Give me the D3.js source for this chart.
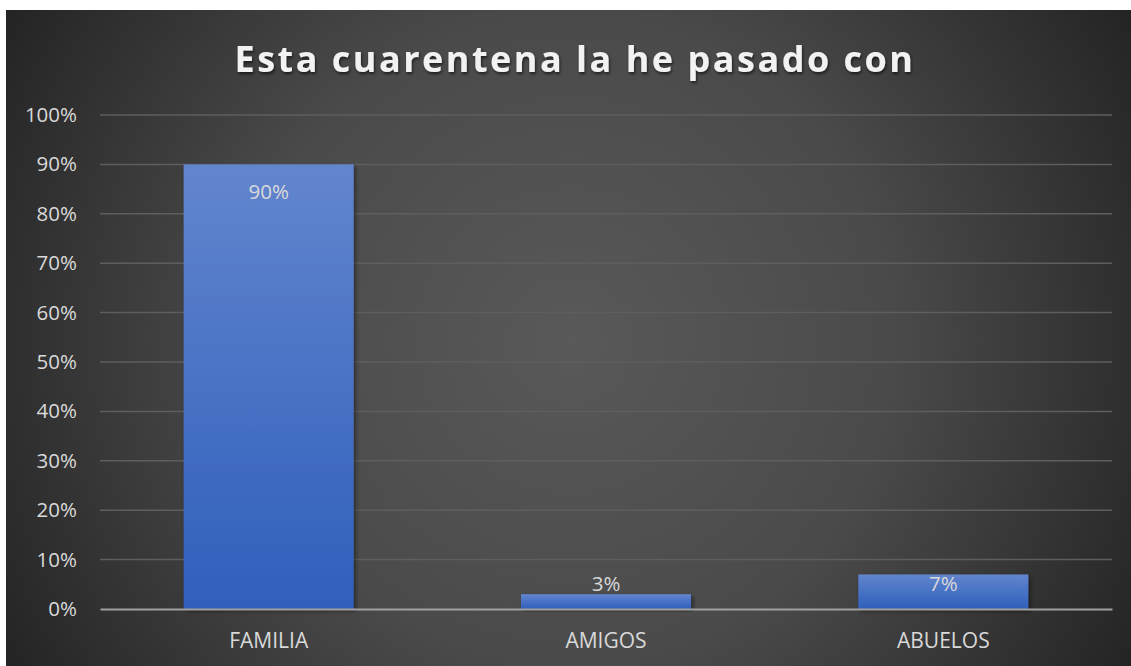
<!DOCTYPE html>
<html>
<head>
<meta charset="utf-8">
<script src="https://cdn.jsdelivr.net/npm/d3@7"></script>
<style>
  body { margin: 0; background: #fff; }
</style>
</head>
<body>
<script>
const canvWidth = 1131, canvHeight = 666;

// data
const categories = ["FAMILIA", "AMIGOS", "ABUELOS"];
const values = [0.90, 0.03, 0.07];
const valueLabels = ["90%", "3%", "7%"];
const yTicks = [0, 0.1, 0.2, 0.3, 0.4, 0.5, 0.6, 0.7, 0.8, 0.9, 1.0];

const plot = {left: 100, right: 1112, top: 115, bottom: 609};

const svg = d3.select("body").append("svg")
    .attr("width", canvWidth)
    .attr("height", canvHeight);

const defs = svg.append("defs");

const bg = defs.append("radialGradient")
    .attr("id", "bg")
    .attr("gradientUnits", "userSpaceOnUse")
    .attr("cx", 570).attr("cy", 340).attr("r", 720);
bg.append("stop").attr("offset", "0%").attr("stop-color", "#595959");
bg.append("stop").attr("offset", "45%").attr("stop-color", "#4a4a4a");
bg.append("stop").attr("offset", "100%").attr("stop-color", "#1c1c1c");

const barGrad = defs.append("linearGradient")
    .attr("id", "barGrad")
    .attr("x1", 0).attr("y1", 0).attr("x2", 0).attr("y2", 1);
barGrad.append("stop").attr("offset", "0%").attr("stop-color", "#6285ce");
barGrad.append("stop").attr("offset", "100%").attr("stop-color", "#2f5fbb");

const shadow = defs.append("filter").attr("id", "shadow")
    .attr("x", "-10%").attr("y", "-10%").attr("width", "130%").attr("height", "130%");
shadow.append("feDropShadow")
    .attr("dx", 2).attr("dy", 2).attr("stdDeviation", 2)
    .attr("flood-color", "#000").attr("flood-opacity", 0.45);

const titleShadow = defs.append("filter").attr("id", "tshadow")
    .attr("x", "-5%").attr("y", "-20%").attr("width", "110%").attr("height", "150%");
titleShadow.append("feDropShadow")
    .attr("dx", 1).attr("dy", 2).attr("stdDeviation", 1.5)
    .attr("flood-color", "#000").attr("flood-opacity", 0.6);

svg.append("rect")
    .attr("x", 6).attr("y", 10)
    .attr("width", canvWidth - 6).attr("height", canvHeight - 10)
    .attr("fill", "url(#bg)");

const xScale = d3.scaleBand()
    .domain(categories)
    .range([plot.left, plot.right])
    .paddingInner(0.496)
    .paddingOuter(0.248);

const yScale = d3.scaleLinear()
    .domain([0, 1])
    .range([plot.bottom, plot.top]);

// gridlines
svg.append("g")
    .selectAll("line")
    .data(yTicks.slice(1))
    .enter().append("line")
    .attr("x1", plot.left).attr("x2", plot.right)
    .attr("y1", d => yScale(d)).attr("y2", d => yScale(d))
    .attr("stroke", "#5e5e5e")
    .attr("stroke-width", 1.5);

// y axis labels
const yAxis = d3.axisLeft(yScale)
    .tickValues(yTicks)
    .tickFormat(d3.format(".0%"))
    .tickSize(0)
    .tickPadding(23);
svg.append("g")
    .attr("transform", `translate(${plot.left},0)`)
    .call(yAxis)
    .call(g => g.select(".domain").remove())
    .selectAll("text")
    .attr("font-family", "Open Sans")
    .attr("font-size", "20.5px")
    .attr("fill", "#d9d9d9");

// bars
svg.append("g")
    .selectAll("rect")
    .data(values)
    .enter().append("rect")
    .attr("x", (d, i) => xScale(categories[i]))
    .attr("y", d => yScale(d))
    .attr("width", xScale.bandwidth())
    .attr("height", d => plot.bottom - yScale(d))
    .attr("fill", "url(#barGrad)")
    .attr("filter", "url(#shadow)");

// x axis
const xAxis = d3.axisBottom(xScale).tickSize(0).tickPadding(24);
svg.append("g")
    .attr("transform", `translate(0,${plot.bottom})`)
    .call(xAxis)
    .call(g => g.select(".domain")
        .attr("stroke", "#a0a0a0")
        .attr("stroke-width", 2))
    .selectAll("text")
    .attr("font-family", "Open Sans")
    .attr("font-size", "21px")
    .attr("fill", "#d9d9d9");

// data labels
svg.append("g")
    .selectAll("text")
    .data(values)
    .enter().append("text")
    .attr("x", (d, i) => xScale(categories[i]) + xScale.bandwidth() / 2)
    .attr("y", d => Math.min(yScale(d) + 35, plot.bottom - 18))
    .attr("text-anchor", "middle")
    .attr("font-family", "Open Sans")
    .attr("font-size", "20.5px")
    .attr("fill", "#d9d9d9")
    .text((d, i) => valueLabels[i]);

// title
svg.append("text")
    .attr("x", 575)
    .attr("y", 72)
    .attr("text-anchor", "middle")
    .attr("font-family", "Open Sans")
    .attr("font-weight", "bold")
    .attr("font-size", "36px")
    .attr("letter-spacing", "2.5px")
    .attr("fill", "#f2f2f2")
    .attr("filter", "url(#tshadow)")
    .text("Esta cuarentena la he pasado con");
</script>
</body>
</html>
